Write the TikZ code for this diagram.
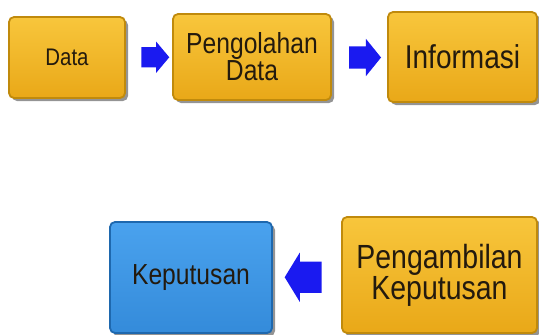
\documentclass[tikz,border=0pt]{standalone}
\usepackage{fontspec}
\setmainfont{Liberation Sans}[FakeStretch=0.85]
\usetikzlibrary{shapes.arrows,shadows,calc}
\definecolor{goldtop}{HTML}{F8C63C}
\definecolor{goldbot}{HTML}{E9A818}
\definecolor{goldline}{HTML}{C08A0C}
\definecolor{bluetop}{HTML}{4AA2EE}
\definecolor{bluebot}{HTML}{348BDA}
\definecolor{blueline}{HTML}{1E68AE}
\definecolor{arrowblue}{HTML}{1A1AF0}
\definecolor{txt}{HTML}{231A0E}
\begin{document}
\begin{tikzpicture}[x=1pt,y=-1pt,
  box/.style={rectangle, rounded corners=5pt, line width=1.8pt, align=center,
    text=txt, inner sep=0pt,
    drop shadow={shadow xshift=3pt, shadow yshift=-3pt, fill=black!60, opacity=0.7}},
  goldbox/.style={box, draw=goldline, top color=goldtop, bottom color=goldbot},
  bluebox/.style={box, draw=blueline, top color=bluetop, bottom color=bluebot},
  blockarrow/.style={single arrow, fill=arrowblue, draw=none, inner xsep=0pt}
]
\useasboundingbox (0,0) rectangle (539,335);

\node[goldbox, minimum width=116pt, minimum height=81pt,
  font=\fontsize{24}{24}\selectfont] (data) at (67,57.5) {Data};
\node[goldbox, minimum width=158pt, minimum height=86pt,
  font=\fontsize{29}{25}\selectfont] (proc) at (252,57) {Pengolahan\\Data};
\node[goldbox, minimum width=149pt, minimum height=90pt,
  font=\fontsize{33}{33}\selectfont] (info) at (462.5,57) {Informasi};
\node[bluebox, minimum width=162pt, minimum height=111pt,
  font=\fontsize{29}{29}\selectfont] (kep) at (191,277.5) {Keputusan};
\node[goldbox, minimum width=195pt, minimum height=116pt,
  font=\fontsize{33.5}{28.5}\selectfont] (ambil) at (439.5,275) {Pengambilan\\Keputusan};

\node[blockarrow, inner ysep=10pt, single arrow head extend=5.5pt,
  single arrow tip angle=100, minimum height=28pt] (a1)
  at ($(data.east)!0.5!(proc.west)+(2,0)$) {};
\node[blockarrow, inner ysep=11pt, single arrow head extend=7.5pt,
  single arrow tip angle=102, minimum height=32pt] (a2)
  at ($(proc.east)!0.5!(info.west)+(1,0.5)$) {};
\node[blockarrow, inner ysep=15.5pt, single arrow head extend=9pt,
  single arrow tip angle=117, minimum height=37pt, shape border rotate=180] (a3)
  at ($(kep.east)!0.5!(ambil.west)+(1,1)$) {};
\end{tikzpicture}
\end{document}
